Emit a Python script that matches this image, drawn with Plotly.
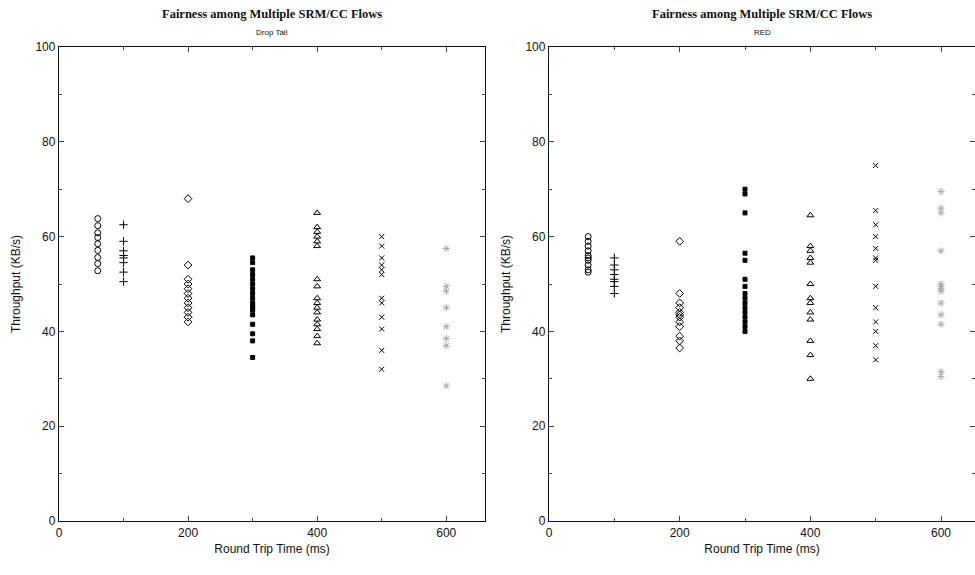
import plotly.graph_objects as go

# ---- data ----
rtt = [60, 100, 200, 300, 400, 500, 600]

droptail = [
    [63.8, 62.3, 60.8, 59.8, 58.5, 57.1, 55.6, 54.3, 52.8],
    [62.5, 59, 57, 56, 55.5, 54.5, 52.5, 50.5],
    [68, 54, 51, 50, 49, 48, 47, 46, 45, 44, 43, 42],
    [55.5, 54.5, 53, 52, 51, 50, 49, 48, 47, 46, 45.5, 45, 44.5, 43.5, 41.5, 39.5, 38, 34.5],
    [65, 62, 61, 60, 59, 58, 51, 49.5, 47, 46, 45, 44, 42.5, 41.5, 40.5, 39, 37.5],
    [60, 58, 55.5, 54, 53, 52, 47, 46, 43, 40.5, 36, 32],
    [57.5, 49.5, 48.5, 45, 41, 38.5, 37, 28.5],
]

red = [
    [60, 59, 58, 57, 56, 55.5, 55, 54, 53, 52.5],
    [55.5, 54, 53, 52, 51, 50.5, 49.5, 48],
    [59, 48, 46, 45, 44, 43.5, 43, 42, 41, 39, 38, 36.5],
    [70, 69, 65, 56.5, 55, 51, 49.5, 48, 47, 46, 45, 44, 43, 42, 41, 40],
    [64.5, 58, 57, 55.5, 54.5, 50, 47, 46, 44, 42.5, 38, 35, 30],
    [75, 65.5, 62.5, 60, 57.5, 55.5, 55, 49.5, 45, 42, 40, 37, 34],
    [69.5, 66, 65, 57, 50, 49.5, 49, 48.5, 46, 43.5, 41.5, 31.5, 30.5],
]

x_ticks = [0, 200, 400, 600]
y_ticks = [0, 20, 40, 60, 80, 100]

title_text = "Fairness among Multiple SRM/CC Flows"
subtitles = ["Drop Tail", "RED"]
x_title = "Round Trip Time (ms)"
y_title = "Throughput (KB/s)"

# ---- styles ----
symbols = ['circle-open', 'cross-thin-open', 'diamond-open', 'square',
           'triangle-up-open', 'x-thin-open', 'asterisk-open']
colors = ['#000', '#000', '#000', '#000', '#000', '#000', '#aaa']
sizes = [6, 6, 6, 4, 6, 5, 6]

fig = go.Figure()
for panel, (data, xa, ya) in enumerate([(droptail, 'x', 'y'), (red, 'x2', 'y2')]):
    for i, vals in enumerate(data):
        fig.add_trace(go.Scatter(
            x=[rtt[i]] * len(vals), y=vals, mode='markers',
            xaxis=xa, yaxis=ya, showlegend=False,
            marker=dict(symbol=symbols[i], size=sizes[i], color=colors[i],
                        line=dict(width=1, color=colors[i])),
        ))

tickfont = dict(family='Liberation Sans, Arial, sans-serif', size=12, color='#111')
common_x = dict(tickvals=x_ticks, ticks='inside', ticklen=5, showgrid=False,
                zeroline=False, showline=True, linecolor='#111', linewidth=1.3,
                mirror='ticks', tickfont=tickfont,
                minor=dict(dtick=100, ticks='inside', ticklen=3, tick0=0),
                title=dict(text=x_title, font=tickfont, standoff=6))
common_y = dict(tickvals=y_ticks, range=[0, 100], ticks='inside', ticklen=5,
                showgrid=False, zeroline=False, showline=True, linecolor='#111',
                linewidth=1.3, mirror='ticks', tickfont=tickfont,
                minor=dict(dtick=10, ticks='inside', ticklen=3, tick0=0),
                title=dict(text=y_title, font=tickfont, standoff=12))

W, H = 975, 575
ml, mr, mt, mb = 59, 0, 47, 54
pw = W - ml - mr

fig.update_layout(
    width=W, height=H,
    margin=dict(l=ml, r=mr, t=mt, b=mb),
    paper_bgcolor='white', plot_bgcolor='white',
    xaxis=dict(domain=[0, (485 - ml) / pw], range=[0, 660], **common_x),
    yaxis=dict(domain=[0, 1], **common_y),
    xaxis2=dict(domain=[(549 - ml) / pw, 1], range=[0, 652], anchor='y2', **common_x),
    yaxis2=dict(domain=[0, 1], anchor='x2', **common_y),
)

centers = [(59 + 485) / 2, (549 + 975) / 2]
for c, sub in zip(centers, subtitles):
    fig.add_annotation(x=(c - ml) / pw, y=1, xref='paper', yref='paper',
                       xanchor='center', yanchor='middle',
                       yshift=33, text=f"<b>{title_text}</b>", showarrow=False,
                       font=dict(family='Liberation Serif, Times New Roman, serif',
                                 size=12.5, color='#111'))
    fig.add_annotation(x=(c - ml) / pw, y=1, xref='paper', yref='paper',
                       xanchor='center', yanchor='middle',
                       yshift=15, text=sub, showarrow=False,
                       font=dict(family='Liberation Sans, Arial, sans-serif',
                                 size=8, color='#111'))

fig.write_html("out.html")
